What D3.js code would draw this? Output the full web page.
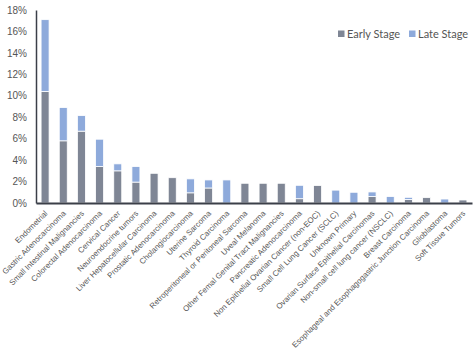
<!DOCTYPE html>
<html>
<head>
<meta charset="utf-8">
<script src="https://cdn.jsdelivr.net/npm/d3@7"></script>
<style>
  html, body { margin: 0; padding: 0; background: #fff; }
  svg { display: block; font-family: Lato, "Open Sans", sans-serif; }
</style>
</head>
<body>
<div id="chart"></div>
<script>
const categories = [
  "Endometrial",
  "Gastric Adenocarcinoma",
  "Small Intestinal Malignancies",
  "Colorectal Adenocarcinoma",
  "Cervical Cancer",
  "Neuroendocrine  tumors",
  "Liver Hepatocellular Carcinoma",
  "Prostatic Adenocarcinoma",
  "Cholangiocarcinoma",
  "Uterine Sarcoma",
  "Thyroid Carcinoma",
  "Retroperitoneal or Peritoneal Sarcoma",
  "Uveal Melanoma",
  "Other Femal Genital Tract Malignancies",
  "Pancreatic Adenocarcinoma",
  "Non Epithelial Ovarian Cancer (non-EOC)",
  "Small Cell Lung Cancer (SCLC)",
  "Unknown Primary",
  "Ovarian Surface Epithelial Carcinomas",
  "Non-small cell lung cancer (NSCLC)",
  "Breast Carcinoma",
  "Esophageal and Esophagogastric Junction Carcinoma",
  "Glioblastoma",
  "Soft Tissue Tumors"
];
const earlyStage = [10.4, 5.8, 6.7, 3.4, 3.0, 1.95, 2.77, 2.36, 0.95, 1.4, 0, 1.84, 1.84, 1.84, 0.4, 1.63, 0, 0, 0.6, 0, 0.33, 0.5, 0, 0.28];
const lateStage  = [6.7, 3.1, 1.45, 2.55, 0.65, 1.45, 0, 0, 1.3, 0.75, 2.15, 0, 0, 0, 1.25, 0, 1.2, 1.0, 0.43, 0.6, 0.2, 0, 0.37, 0];
const seriesNames = ["Early Stage", "Late Stage"];
const yTicks = [0, 2, 4, 6, 8, 10, 12, 14, 16, 18];

const W = 474, H = 355;
const colors = ["#7f8695", "#8eaadb"];
const textColor = "#555555";

const rows = categories.map((c, i) => ({ cat: c, early: earlyStage[i], late: lateStage[i] }));
const stack = d3.stack().keys(["early", "late"])(rows);

const svg = d3.select("#chart").append("svg").attr("width", W).attr("height", H);

const x = d3.scaleBand().domain(categories).range([36, 472]).paddingInner(0.56).paddingOuter(0.28);
const y = d3.scaleLinear().domain([0, 18]).range([203, 10]);

// bars
svg.append("g").selectAll("g").data(stack).join("g")
  .attr("fill", (d, i) => colors[i])
  .selectAll("rect").data(d => d).join("rect")
  .attr("x", d => x(d.data.cat))
  .attr("width", x.bandwidth())
  .attr("y", d => y(d[1]))
  .attr("height", d => Math.max(0, y(d[0]) - y(d[1])))
  .attr("stroke", "#fff")
  .attr("stroke-width", 0.8);

// y axis
const yAxis = svg.append("g").attr("transform", "translate(36,0)")
  .call(d3.axisLeft(y).tickValues(yTicks).tickSize(0).tickPadding(9).tickFormat(d => d + "%"));
yAxis.select(".domain").attr("stroke", "#3b3f48").attr("stroke-width", 1.5);
yAxis.selectAll("text").attr("fill", textColor).style("font-size", "10px");

// x axis
const xAxis = svg.append("g").attr("transform", "translate(0,203)")
  .call(d3.axisBottom(x).tickSize(0).tickPadding(0));
xAxis.select(".domain").attr("stroke", "#3b3f48").attr("stroke-width", 2);
xAxis.selectAll("text")
  .attr("fill", textColor)
  .style("font-size", "7.9px")
  .attr("text-anchor", "end")
  .attr("dy", 0)
  .attr("y", 0)
  .attr("transform", "translate(3,11) rotate(-45)");

// legend
const legend = svg.append("g").attr("transform", "translate(338,34)");
const lx = [0, 71];
seriesNames.forEach((name, i) => {
  const g = legend.append("g").attr("transform", `translate(${lx[i]},0)`);
  g.append("rect").attr("x", 0).attr("y", -3.5).attr("width", 6.5).attr("height", 6.5).attr("fill", colors[i]);
  g.append("text").attr("x", 9).attr("y", 0).attr("dy", "0.35em")
    .attr("fill", textColor).style("font-size", "11px").text(name);
});
</script>
</body>
</html>
